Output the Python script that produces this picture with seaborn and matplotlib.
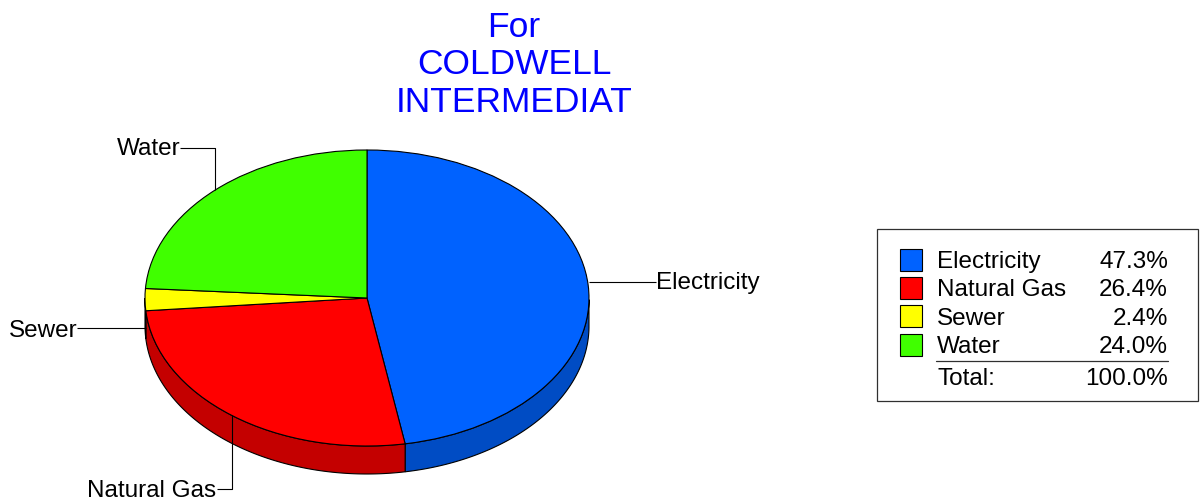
import numpy as np
import matplotlib
matplotlib.use("Agg")
import matplotlib.pyplot as plt
import seaborn as sns

labels = ["Electricity", "Natural Gas", "Sewer", "Water"]
values = [47.3, 26.4, 2.4, 24.0]
value_text = ["47.3%", "26.4%", "2.4%", "24.0%"]
total_text = "100.0%"
title_lines = "For\nCOLDWELL\nINTERMEDIAT"

top_colors = ["#0062FF", "#FF0000", "#FFFF00", "#40FF00"]
side_colors = ["#004CC4", "#C40000", "#C4C400", "#30C400"]

sns.set_theme(style="white")
plt.rcParams["font.family"] = ["Liberation Sans", "DejaVu Sans"]

W, H = 1204, 504
fig = plt.figure(figsize=(W / 100, H / 100), dpi=100, facecolor="white")

# pie axes, radius 1 is 222 px wide and 148 px high, centre at pixel 367,298
rx, ry, cx, cy = 222, 148, 367, 298
ax = fig.add_axes([(cx - 1.25 * rx) / W, 1 - (cy + 1.25 * ry) / H, 2.5 * rx / W, 2.5 * ry / H])
depth = 28 / ry

fracs = np.array(values) / sum(values)
edges = 90 - 360 * np.concatenate([[0], np.cumsum(fracs)])

# side wall, only the front half of the rim shows
for i in range(len(values)):
    a0, a1 = edges[i + 1], edges[i]
    t = np.radians(np.linspace(a0, a1, 200))
    t = t[np.sin(t) <= 0]
    if len(t) == 0:
        continue
    xs = np.concatenate([np.cos(t), np.cos(t[::-1])])
    ys = np.concatenate([np.sin(t), np.sin(t[::-1]) - depth])
    ax.fill(xs, ys, facecolor=side_colors[i], edgecolor="black", linewidth=0.8, zorder=1)

ax.pie(values, colors=top_colors, startangle=90, counterclock=False, radius=1,
       wedgeprops={"edgecolor": "black", "linewidth": 0.8, "zorder": 2})
ax.set_aspect("auto")
ax.set_xlim(-1.25, 1.25)
ax.set_ylim(-1.25, 1.25)
ax.axis("off")

# overlay in pixel coordinates for title, leader lines and legend box
ov = fig.add_axes([0, 0, 1, 1], facecolor="none")
ov.set_xlim(0, W)
ov.set_ylim(H, 0)
ov.axis("off")

ov.text(514, 65, title_lines, color="#0000FF", fontsize=25.5, ha="center", va="center", linespacing=1.155)

leaders = [
    ([589, 656], [281.5, 281.5], 656, 283, "left", labels[0]),
    ([232, 232, 217], [415, 489, 489], 216, 491, "right", labels[1]),
    ([146, 77], [327.5, 327.5], 78, 331, "right", labels[2]),
    ([215, 215, 180], [190, 148, 148], 181, 149, "right", labels[3]),
]
for xs, ys, tx, ty, ha, name in leaders:
    ov.plot(xs, ys, color="black", lw=0.8, solid_capstyle="butt")
    ov.text(tx, ty, name, fontsize=17.5, color="black", ha=ha, va="center")

ov.add_patch(plt.Rectangle((877, 229), 321, 172, facecolor="white", edgecolor="#303030", lw=0.9))
row_y = [262, 290, 319, 347]
box_y = [248.5, 276.5, 305, 333.5]
for y, by, name, val, col in zip(row_y, box_y, labels, value_text, top_colors):
    ov.add_patch(plt.Rectangle((899.5, by), 22, 22, facecolor=col, edgecolor="black", lw=0.8))
    ov.text(937, y, name, fontsize=17.5, color="black", ha="left", va="center")
    ov.text(1168, y, val, fontsize=17.5, color="black", ha="right", va="center")
ov.plot([936, 1168], [361, 361], color="#303030", lw=0.9)
ov.text(937, 379, "Total:", fontsize=17.5, color="black", ha="left", va="center")
ov.text(1168, 379, total_text, fontsize=17.5, color="black", ha="right", va="center")

fig.savefig("out.png", dpi=100, facecolor="white")
